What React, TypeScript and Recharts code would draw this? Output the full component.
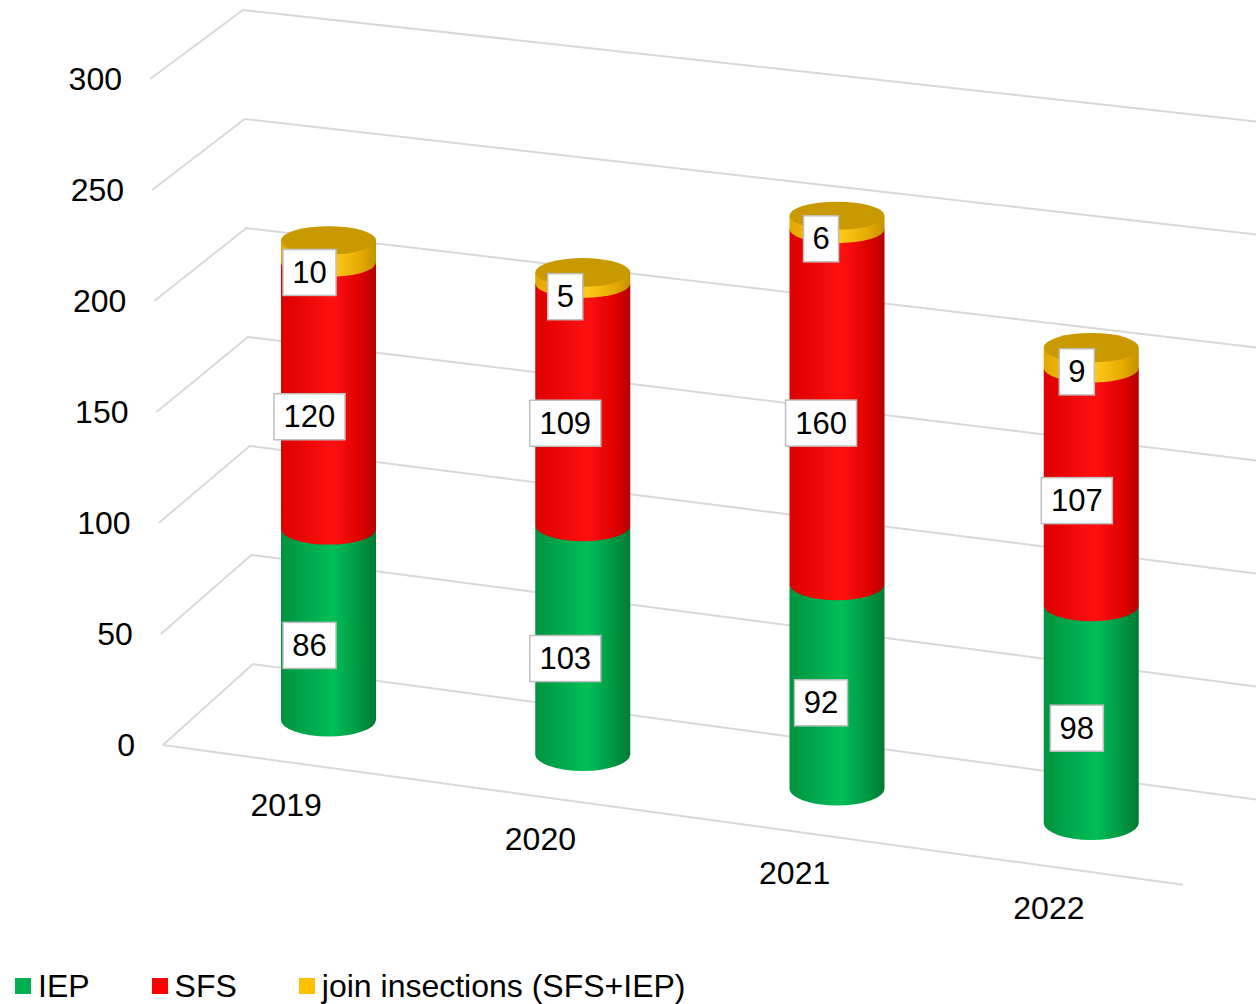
import React from 'react';
import { BarChart, Bar, XAxis, YAxis, CartesianGrid, LabelList, Legend } from 'recharts';

const years = ['2019', '2020', '2021', '2022'];
const iepValues = [86, 103, 92, 98];
const sfsValues = [120, 109, 160, 107];
const jointValues = [10, 5, 6, 9];
const yTicks = [0, 50, 100, 150, 200, 250, 300];
const seriesNames = { iep: 'IEP', sfs: 'SFS', joint: 'join insections (SFS+IEP)' };

const data = years.map((year, i) => ({
  year,
  iep: iepValues[i],
  sfs: sfsValues[i],
  joint: jointValues[i],
}));

const W = 1256;
const H = 1004;
const FONT = '"Liberation Sans", Arial, sans-serif';
const SLOPE = 0.135;
const depthShift = (cx: number) => SLOPE * cx - 69.5;
const ellRy = (y: number) => 13 + 0.005 * y;

const PALETTE: Record<string, any> = {
  iep: { base: '#00B050', dark: '#00933F', light: '#00BE58', edge: '#007A34', cap: '#009A47' },
  sfs: { base: '#FF0000', dark: '#DC0000', light: '#FF1010', edge: '#B50000', cap: '#E00000' },
  joint: { base: '#FFC000', dark: '#E2A800', light: '#FFC818', edge: '#C49200', cap: '#C99A00' },
};

const makeCylinder = (key: string, isTop: boolean) => (props: any) => {
  const { x, y, width, height, index } = props;
  if (width == null || height == null || height <= 0) return <g />;
  const cx = x + width / 2;
  const d = depthShift(cx);
  const top = y + d;
  const bottom = y + height + d;
  const rx = width / 2;
  const ryB = ellRy(bottom);
  const ryT = ellRy(top);
  const id = `grad-${key}-${index}`;
  const p = PALETTE[key];
  const path = `M ${x} ${top} L ${x} ${bottom} A ${rx} ${ryB} 0 0 0 ${x + width} ${bottom} L ${x + width} ${top} Z`;
  return (
    <g>
      <defs>
        <linearGradient id={id} x1="0" y1="0" x2="1" y2="0">
          <stop offset="0" stopColor={p.dark} />
          <stop offset="0.55" stopColor={p.light} />
          <stop offset="0.85" stopColor={p.dark} />
          <stop offset="1" stopColor={p.edge} />
        </linearGradient>
      </defs>
      <path d={path} fill={`url(#${id})`} />
      {isTop && <ellipse cx={cx} cy={top} rx={rx} ry={ryT} fill={p.cap} />}
    </g>
  );
};

const renderLabel = (props: any) => {
  const { x, y, width, height, value } = props;
  const cx = x + width / 2;
  const d = depthShift(cx);
  const mid = y + height / 2 + d + 21 - 0.009 * (cx - 330);
  const lx = cx - 19 + 0.006 * (cx - 330);
  const s = String(value);
  const w = s.length * 18 + 17;
  return (
    <g>
      <rect x={lx - w / 2} y={mid - 23} width={w} height={46} fill="#FFFFFF" stroke="#BFBFBF" strokeWidth={1.5} />
      <text x={lx} y={mid} textAnchor="middle" dominantBaseline="central" fontSize={31} fontFamily={FONT} fill="#000">
        {s}
      </text>
    </g>
  );
};

const XTick = (props: any) => {
  const { x, y, payload } = props;
  const ty = y + 85 + depthShift(x);
  return (
    <text x={x - 42} y={ty} textAnchor="middle" dominantBaseline="central" fontSize={32} fontFamily={FONT} fill="#000">
      {payload.value}
    </text>
  );
};

const YTick = (props: any) => {
  const { x, y, payload } = props;
  const t = payload.value / 300;
  return (
    <text x={x - 66 - 13 * t} y={y} textAnchor="end" dominantBaseline="central" fontSize={32} fontFamily={FONT} fill="#000">
      {payload.value}
    </text>
  );
};

const gridLine = (props: any) => {
  const { x1, y1, y, height, key, index } = props;
  const t = (y + height - y1) / height;
  const fx = x1 - 38 - 13 * t;
  const fy = y1;
  const bx = fx + 90 + 3 * t;
  const by = fy - 81 + 12 * t;
  const s = 0.135 - 0.025 * t;
  const ey = by + (W - bx) * s;
  const floorEnd = 1183;
  return (
    <g key={key ?? `g-${index}`}>
      <polyline points={`${fx},${fy} ${bx},${by} ${W},${ey}`} fill="none" stroke="#D9D9D9" strokeWidth={2} />
      {t < 0.001 && (
        <line x1={fx} y1={fy} x2={floorEnd} y2={fy + (floorEnd - fx) * 0.137} stroke="#D9D9D9" strokeWidth={2} />
      )}
    </g>
  );
};

const LegendContent = (props: any) => {
  const payload = props.payload || [];
  return (
    <div style={{ display: 'flex', alignItems: 'center', fontFamily: FONT, fontSize: 32, paddingLeft: 15, height: 46, color: '#000' }}>
      {payload.map((e: any, i: number) => (
        <div key={i} style={{ display: 'flex', alignItems: 'center', marginRight: 62 }}>
          <span style={{ width: 16, height: 16, background: e.color, marginRight: 7, display: 'inline-block' }} />
          <span>{e.value}</span>
        </div>
      ))}
    </div>
  );
};

export default function App() {
  return (
    <div style={{ position: 'absolute', left: 0, top: 0, width: W, height: H, background: '#fff', fontFamily: FONT }}>
      <BarChart width={W} height={H} data={data} margin={{ top: 79, right: 38, left: 0, bottom: 183 }} barSize={95}>
        <CartesianGrid vertical={false} horizontal={gridLine} />
        <XAxis dataKey="year" axisLine={false} tickLine={false} tickSize={0} tickMargin={0} height={30} interval={0} tick={<XTick />} />
        <YAxis width={201} domain={[0, 300]} ticks={yTicks} axisLine={false} tickLine={false} tickSize={0} tickMargin={0} tick={<YTick />} />
        <Legend
          verticalAlign="bottom"
          align="left"
          content={<LegendContent />}
          wrapperStyle={{ position: 'absolute', left: 0, top: 963, width: W, height: 46 }}
        />
        <Bar dataKey="iep" name={seriesNames.iep} stackId="a" fill={PALETTE.iep.base} shape={makeCylinder('iep', false)} isAnimationActive={false}>
          <LabelList dataKey="iep" content={renderLabel} />
        </Bar>
        <Bar dataKey="sfs" name={seriesNames.sfs} stackId="a" fill={PALETTE.sfs.base} shape={makeCylinder('sfs', false)} isAnimationActive={false}>
          <LabelList dataKey="sfs" content={renderLabel} />
        </Bar>
        <Bar dataKey="joint" name={seriesNames.joint} stackId="a" fill={PALETTE.joint.base} shape={makeCylinder('joint', true)} isAnimationActive={false}>
          <LabelList dataKey="joint" content={renderLabel} />
        </Bar>
      </BarChart>
    </div>
  );
}
